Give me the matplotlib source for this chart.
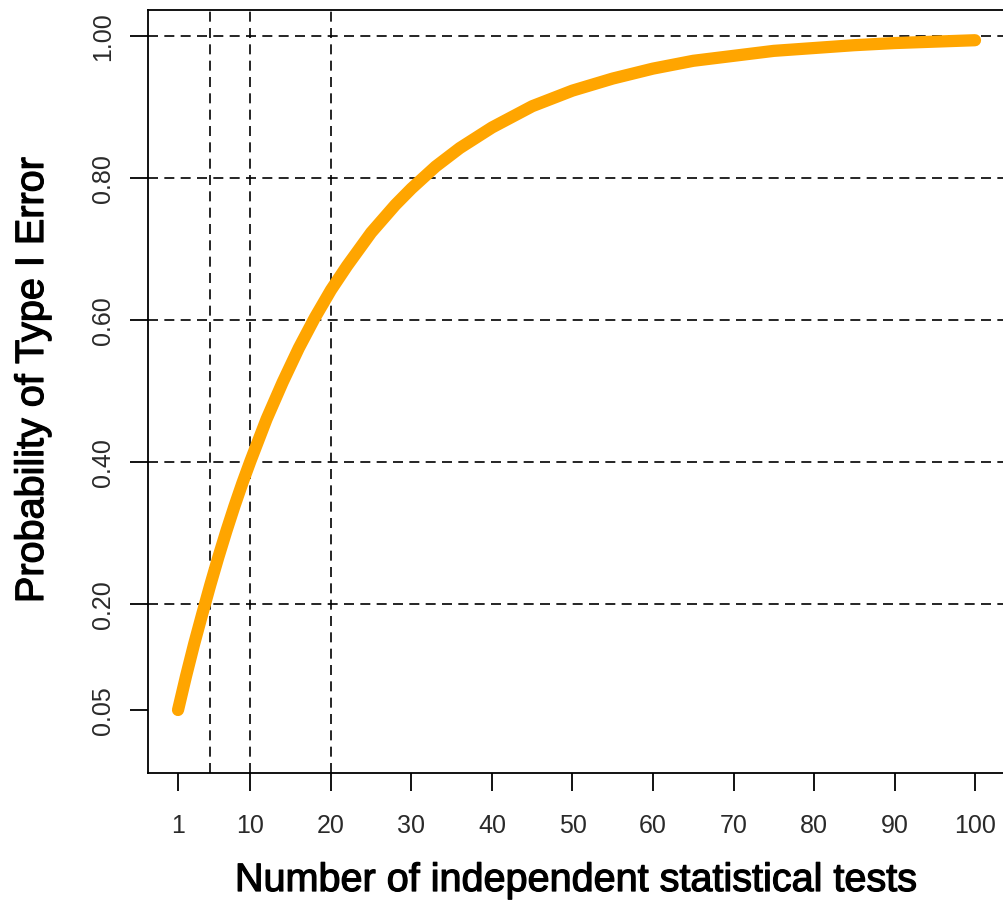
import matplotlib
matplotlib.use("Agg")
import matplotlib.pyplot as plt
import matplotlib.patheffects as pe

plt.rcParams['font.family'] = ['Liberation Sans', 'DejaVu Sans']

# Familywise probability of at least one Type I error vs. number of tests
n_tests = [1, 2, 3, 4, 5, 6, 7, 8, 9, 10, 12, 14, 16, 18, 20, 22, 25, 28, 30,
           33, 36, 40, 45, 50, 55, 60, 65, 70, 75, 80, 85, 90, 95, 100]
p_type1 = [0.050, 0.098, 0.143, 0.185, 0.226, 0.265, 0.302, 0.337, 0.370, 0.401,
           0.460, 0.512, 0.560, 0.603, 0.642, 0.676, 0.723, 0.762, 0.785,
           0.816, 0.842, 0.871, 0.901, 0.923, 0.940, 0.954, 0.965, 0.972,
           0.979, 0.983, 0.987, 0.990, 0.992, 0.994]

x_ticks = [1, 10, 20, 30, 40, 50, 60, 70, 80, 90, 100]
y_ticks = [0.05, 0.20, 0.40, 0.60, 0.80, 1.00]
y_ticklabels = ["0.05", "0.20", "0.40", "0.60", "0.80", "1.00"]
ref_x = [5, 10, 20]
ref_y = [0.20, 0.40, 0.60, 0.80, 1.00]

W, H = 1004, 903
fig = plt.figure(figsize=(W / 100, H / 100), dpi=100)
left, right, top, bottom = 148, 1004, 11, 774
ax = fig.add_axes([left / W, 1 - bottom / H, (right - left) / W, (bottom - top) / H])

ax.set_xlim(-2.73, 103.6)
ax.set_ylim(-0.0388, 1.0366)

dash = (0, (6, 3.8))
for xv in ref_x:
    ax.axvline(xv, color='black', lw=1.2, linestyle=dash, zorder=1)
for yv in ref_y:
    ax.axhline(yv, color='black', lw=1.2, linestyle=dash, zorder=1)

ax.plot(n_tests, p_type1, color='#FFA500', lw=8.8, solid_capstyle='round',
        solid_joinstyle='round', zorder=3)

tick_font = ['Liberation Sans Narrow', 'Liberation Sans', 'DejaVu Sans']
ax.set_xticks(x_ticks)
ax.set_xticklabels([str(v) for v in x_ticks], family=tick_font)
ax.set_yticks(y_ticks)
ax.set_yticklabels(y_ticklabels, rotation=90, va='center', family=tick_font)
ax.tick_params(axis='both', direction='out', length=13, width=1.3,
               labelsize=18, colors='black', labelcolor='#2a2a2a')
ax.tick_params(axis='x', pad=16)
ax.tick_params(axis='y', pad=11)

for s in ['left', 'bottom', 'top']:
    ax.spines[s].set_linewidth(1.3)
ax.spines['right'].set_visible(False)

heavy = [pe.withStroke(linewidth=0.9, foreground='black')]
axes_w, axes_h = right - left, bottom - top

xl = ax.set_xlabel("Number of independent statistical tests", fontsize=28.5)
xl.set_va('baseline')
ax.xaxis.set_label_coords(0.5, (bottom - 892) / axes_h)

yl = ax.set_ylabel("Probability of Type I Error", fontsize=28.5)
yl.set_va('baseline')
ax.yaxis.set_label_coords((43 - left) / axes_w, (bottom - 381) / axes_h)

xl.set_path_effects(heavy)
yl.set_path_effects(heavy)

fig.savefig("out.png", dpi=100)
